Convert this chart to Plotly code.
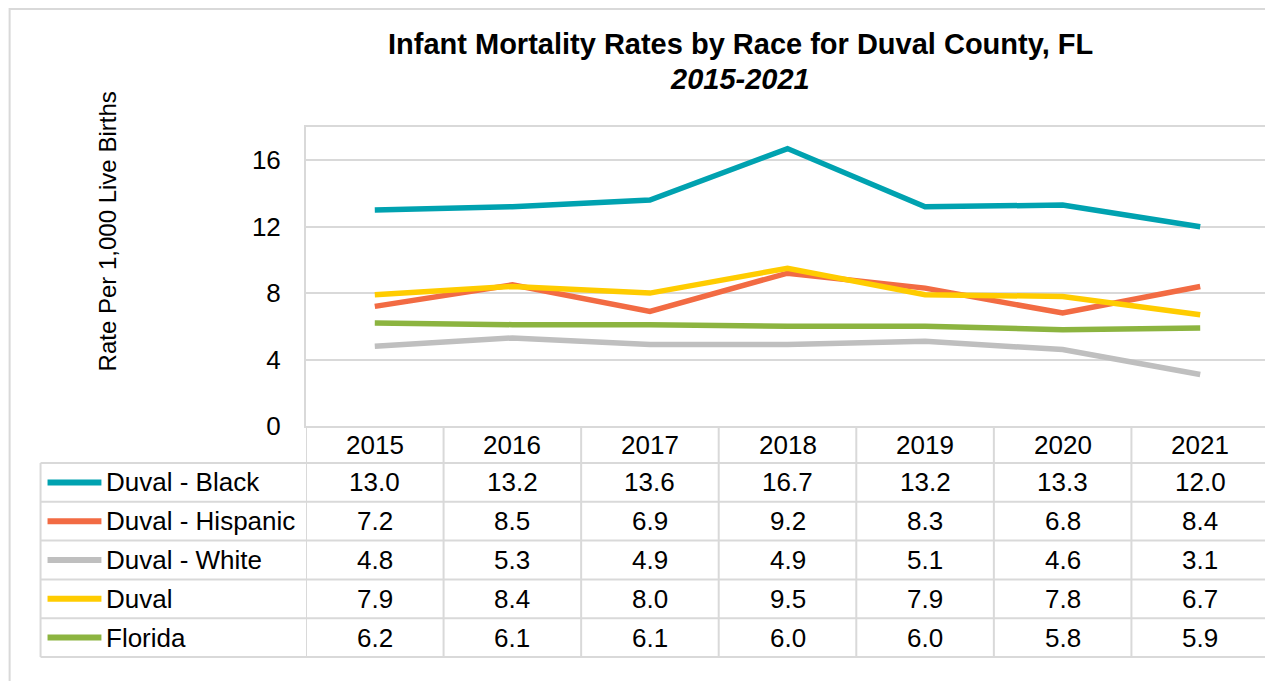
"""
Infant mortality line chart with an Excel-style data table underneath
"""

import plotly.graph_objects as go

# Data
years = ["2015", "2016", "2017", "2018", "2019", "2020", "2021"]
series_names = ["Duval - Black", "Duval - Hispanic", "Duval - White", "Duval", "Florida"]
duval_black = [13.0, 13.2, 13.6, 16.7, 13.2, 13.3, 12.0]
duval_hispanic = [7.2, 8.5, 6.9, 9.2, 8.3, 6.8, 8.4]
duval_white = [4.8, 5.3, 4.9, 4.9, 5.1, 4.6, 3.1]
duval_all = [7.9, 8.4, 8.0, 9.5, 7.9, 7.8, 6.7]
florida = [6.2, 6.1, 6.1, 6.0, 6.0, 5.8, 5.9]
y_ticks = [0, 4, 8, 12, 16]

series_values = [duval_black, duval_hispanic, duval_white, duval_all, florida]
series_colors = ["#00A2B0", "#F26B43", "#BFBFBF", "#FFCC00", "#8CB440"]

# Screen geometry (pixels in the 1273x681 window); the page body adds an 8px margin
OFF = 8
SCREEN_W, SCREEN_H = 1273, 681
PLOT_L, PLOT_R, PLOT_T, PLOT_B = 306, 1271, 127, 426
W, H = SCREEN_W - OFF, SCREEN_H - OFF
PW = PLOT_R - PLOT_L
PH = PLOT_B - PLOT_T
GRID = "#D9D9D9"
FONT = "Arial, Liberation Sans, sans-serif"


def px_x(px):
    return (px - PLOT_L) / PW


def px_y(py):
    return (PLOT_B - py) / PH


fig = go.Figure()

for name, vals, color in zip(series_names, series_values, series_colors):
    fig.add_trace(go.Scatter(
        x=list(range(len(years))),
        y=vals,
        name=name,
        mode="lines",
        line=dict(color=color, width=5.5),
        showlegend=False,
    ))

shapes = []
annotations = []


def text(s, x, y, xref="paper", xanchor="center", size=26, angle=0):
    annotations.append(dict(text=s, x=x, xref=xref, y=y, yref="paper",
                            xanchor=xanchor, yanchor="middle", textangle=angle,
                            showarrow=False, font=dict(size=size, color="black")))


# Outer chart border
shapes.append(dict(type="rect", xref="paper", yref="paper",
                   x0=px_x(9), x1=px_x(1271), y0=px_y(720), y1=px_y(9),
                   line=dict(color=GRID, width=2), layer="below"))

# Data table grid
header_top, header_bottom, table_bottom = 426, 463, 657
row_h = (table_bottom - header_bottom) / len(series_names)
for i in range(len(years) + 1):
    shapes.append(dict(type="line", xref="x", yref="paper",
                       x0=i - 0.5, x1=i - 0.5,
                       y0=px_y(header_top), y1=px_y(table_bottom),
                       line=dict(color=GRID, width=2)))
shapes.append(dict(type="line", xref="paper", yref="paper",
                   x0=px_x(40), x1=px_x(40),
                   y0=px_y(header_bottom), y1=px_y(table_bottom),
                   line=dict(color=GRID, width=2)))
for r in range(len(series_names) + 1):
    yy = px_y(header_bottom + r * row_h)
    shapes.append(dict(type="line", xref="paper", yref="paper",
                       x0=px_x(40), x1=1, y0=yy, y1=yy,
                       line=dict(color=GRID, width=2)))

# Year header row
for i, yr in enumerate(years):
    text(yr, i, px_y((header_top + header_bottom) / 2), xref="x")

# Series rows: legend key, name, values
for r, (name, vals, color) in enumerate(zip(series_names, series_values, series_colors)):
    cy = px_y(header_bottom + (r + 0.5) * row_h)
    shapes.append(dict(type="line", xref="paper", yref="paper",
                       x0=px_x(47), x1=px_x(101), y0=cy, y1=cy,
                       line=dict(color=color, width=6)))
    text(name, px_x(104), cy, xanchor="left")
    for i, v in enumerate(vals):
        text(f"{v:.1f}", i, cy, xref="x")

# Titles
text("<b>Infant Mortality Rates by Race for Duval County, FL</b>", px_x(741), px_y(44), size=29)
text("<b><i>2015-2021</i></b>", px_x(741), px_y(79), size=29)
text("Rate Per 1,000 Live Births", px_x(107), px_y(231), size=24, angle=-90)

fig.update_layout(
    width=W,
    height=H,
    margin=dict(l=PLOT_L - OFF, r=SCREEN_W - PLOT_R, t=PLOT_T - OFF, b=SCREEN_H - PLOT_B),
    plot_bgcolor="white",
    paper_bgcolor="white",
    font=dict(family=FONT, size=26, color="black"),
    shapes=shapes,
    annotations=annotations,
)

fig.update_xaxes(
    range=[-0.5, len(years) - 0.5],
    showticklabels=False,
    showgrid=False,
    zeroline=False,
    showline=True,
    mirror=True,
    linecolor=GRID,
    linewidth=2,
)

fig.update_yaxes(
    range=[0, 18],
    tickvals=y_ticks,
    ticktext=[str(t) for t in y_ticks],
    tickfont=dict(size=26, color="black"),
    ticklabelstandoff=18,
    showgrid=True,
    gridcolor=GRID,
    gridwidth=2,
    zeroline=False,
    showline=True,
    mirror=True,
    linecolor=GRID,
    linewidth=2,
)

fig.write_html("out.html")
